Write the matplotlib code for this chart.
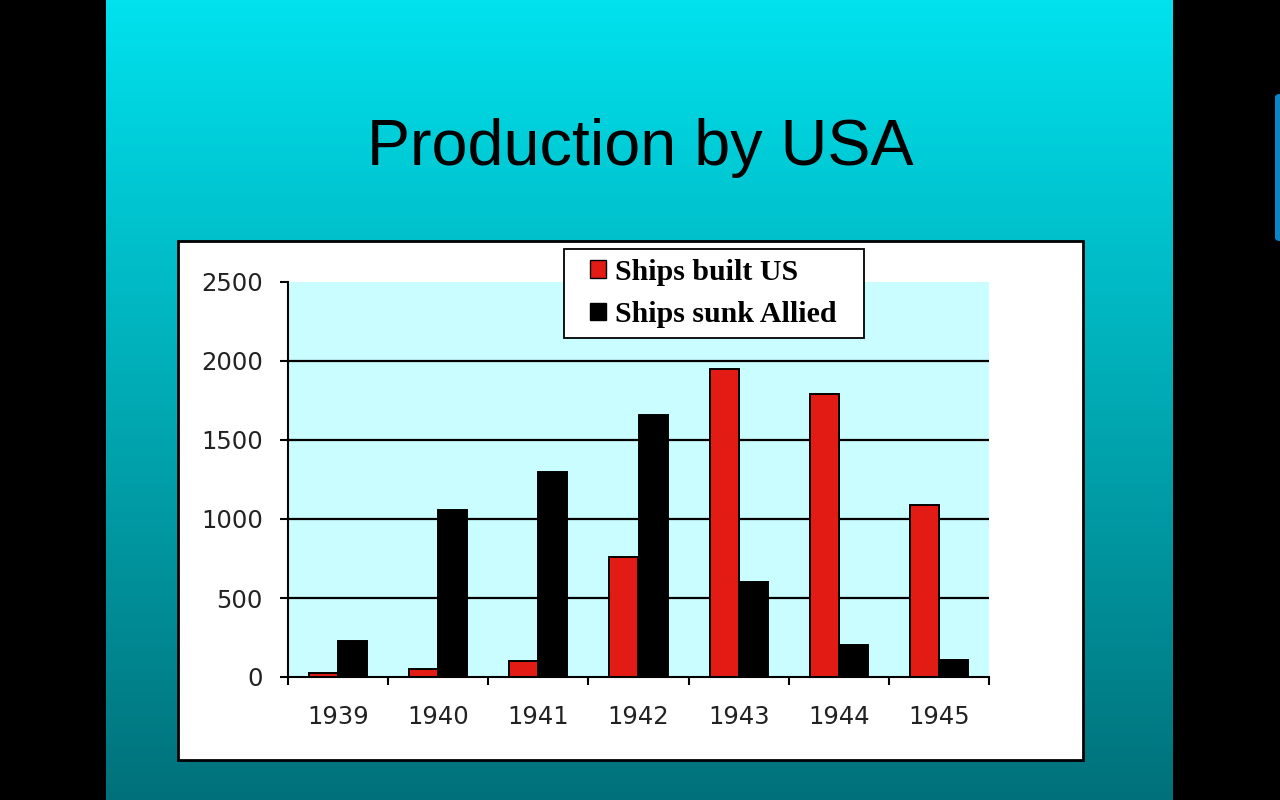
import numpy as np
import matplotlib
matplotlib.use("Agg")
import matplotlib.pyplot as plt
from matplotlib.patches import Rectangle, Patch, FancyBboxPatch
from matplotlib.colors import LinearSegmentedColormap

# data
years = ["1939", "1940", "1941", "1942", "1943", "1944", "1945"]
ships_built_us = [25, 50, 100, 760, 1950, 1790, 1090]
ships_sunk_allied = [230, 1060, 1300, 1660, 600, 200, 110]
y_ticks = [0, 500, 1000, 1500, 2000, 2500]

RED = "#E21B15"
PLOT_BG = "#CAFDFF"

fig = plt.figure(figsize=(12.8, 8), dpi=100)
fig.patch.set_facecolor("black")

# slide background, gradient cyan -> teal
bg = fig.add_axes([106 / 1280, 0, (1173 - 106) / 1280, 1])
bg.set_zorder(-5)
cmap = LinearSegmentedColormap.from_list("slide", ["#00E2EE", "#00AAB4", "#00717A"])
grad = np.linspace(0, 1, 256).reshape(-1, 1)
bg.imshow(grad, aspect="auto", cmap=cmap, extent=[0, 1, 0, 1], origin="upper")
bg.set_xlim(0, 1)
bg.set_ylim(0, 1)
bg.axis("off")

# white chart box, drawn inside the background axes so it sits under the plot
bg.add_patch(Rectangle(((178 - 106) / 1067, 1 - 760 / 800), 905 / 1067, 519 / 800,
                       facecolor="white", edgecolor="black", linewidth=2))

bg.text((640 - 106) / 1067, 1 - 165 / 800, "Production by USA", ha="center",
        va="baseline", fontsize=46.5, family="Liberation Sans", color="black")

# little blue tab at the right edge
tab = FancyBboxPatch((1275 / 1280, 1 - 241 / 800), 10 / 1280, 147 / 800,
                     boxstyle="round,pad=0,rounding_size=0.004",
                     transform=fig.transFigure, facecolor="#0A86C6",
                     edgecolor="none")
fig.patches.append(tab)

ax = fig.add_axes([288 / 1280, 1 - 677 / 800, 701 / 1280, 395 / 800])
ax.set_facecolor(PLOT_BG)
x = np.arange(len(years))
w = 0.29
ax.bar(x - w / 2, ships_built_us, w, color=RED, edgecolor="black", linewidth=1.4,
       zorder=3, label="Ships built US")
ax.bar(x + w / 2, ships_sunk_allied, w, color="black", edgecolor="black",
       linewidth=1.4, zorder=3, label="Ships sunk Allied")

ax.set_xlim(-0.5, len(years) - 0.5)
ax.set_ylim(0, 2500)
for v in y_ticks[1:-1]:
    ax.axhline(v, color="black", linewidth=1.6, zorder=2)

for s in ["top", "right"]:
    ax.spines[s].set_visible(False)
for s in ["left", "bottom"]:
    ax.spines[s].set_linewidth(1.5)
    ax.spines[s].set_zorder(4)

ax.set_yticks(y_ticks)
ax.set_yticklabels([str(v) for v in y_ticks])
ax.tick_params(axis="y", direction="out", length=6, width=1.5, pad=12,
               labelsize=17.5, labelcolor="#222222")
ax.set_xticks(np.arange(-0.5, len(years), 1.0))
ax.set_xticklabels([])
ax.tick_params(axis="x", which="major", direction="out", length=6, width=1.5)
ax.set_xticks(x, minor=True)
ax.set_xticklabels(years, minor=True)
ax.tick_params(axis="x", which="minor", length=0, pad=20, labelsize=17.5,
               labelcolor="#222222")

# legend box frame (white, thin black border) sitting over the plot top
frame = Rectangle((564 / 1280, 1 - 338 / 800), 300 / 1280, 89 / 800,
                  transform=fig.transFigure, facecolor="white",
                  edgecolor="black", linewidth=1.3, zorder=5)
fig.patches.append(frame)

handles = [Patch(facecolor=RED, edgecolor="black", linewidth=1),
           Patch(facecolor="black", edgecolor="black", linewidth=1)]
leg = fig.legend(handles, ["Ships built US", "Ships sunk Allied"],
                 loc="center left", bbox_to_anchor=(590 / 1280, 1 - 293.5 / 800),
                 prop={"family": "Liberation Serif", "weight": "bold", "size": 21.5},
                 frameon=False, handlelength=0.52, handleheight=0.52,
                 handletextpad=0.33, labelspacing=0.52, borderpad=0,
                 borderaxespad=0)
leg.set_zorder(10)

fig.savefig("out.png", dpi=100, facecolor=fig.get_facecolor())
